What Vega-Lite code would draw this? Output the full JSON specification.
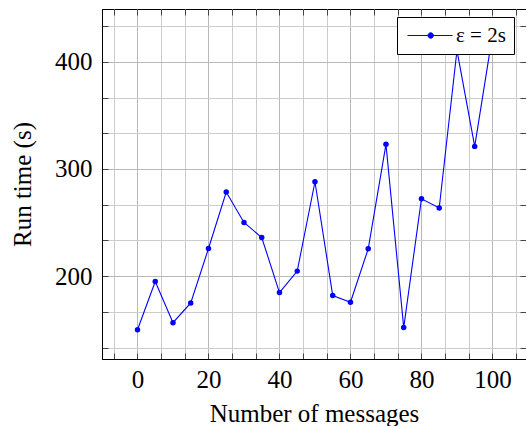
{
  "$schema": "https://vega.github.io/schema/vega-lite/v6.json",
  "width": 424,
  "height": 350,
  "autosize": {"type": "none"},
  "padding": {"left": 102, "top": 9, "right": 0, "bottom": 67},
  "background": "white",
  "config": {
    "view": {"stroke": "black", "strokeWidth": 1},
    "font": "Liberation Serif"
  },
  "data": {
    "values": [
      {"messages": 0, "time": 150, "series": "ε = 2s"},
      {"messages": 5, "time": 195, "series": "ε = 2s"},
      {"messages": 10, "time": 156.6, "series": "ε = 2s"},
      {"messages": 15, "time": 175, "series": "ε = 2s"},
      {"messages": 20, "time": 225.8, "series": "ε = 2s"},
      {"messages": 25, "time": 278.5, "series": "ε = 2s"},
      {"messages": 30, "time": 250.1, "series": "ε = 2s"},
      {"messages": 35, "time": 236.1, "series": "ε = 2s"},
      {"messages": 40, "time": 184.7, "series": "ε = 2s"},
      {"messages": 45, "time": 204.7, "series": "ε = 2s"},
      {"messages": 50, "time": 288.1, "series": "ε = 2s"},
      {"messages": 55, "time": 181.9, "series": "ε = 2s"},
      {"messages": 60, "time": 175.7, "series": "ε = 2s"},
      {"messages": 65, "time": 225.5, "series": "ε = 2s"},
      {"messages": 70, "time": 323, "series": "ε = 2s"},
      {"messages": 75, "time": 152, "series": "ε = 2s"},
      {"messages": 80, "time": 272.2, "series": "ε = 2s"},
      {"messages": 85, "time": 263.6, "series": "ε = 2s"},
      {"messages": 90, "time": 410.6, "series": "ε = 2s"},
      {"messages": 95, "time": 321.1, "series": "ε = 2s"},
      {"messages": 100, "time": 425, "series": "ε = 2s"}
    ]
  },
  "layer": [
    {
      "mark": {"type": "line", "color": "#0000ff", "strokeWidth": 1.1, "point": {"filled": true, "size": 30, "color": "#0000ff"}},
      "encoding": {
        "x": {
          "field": "messages", "type": "quantitative",
          "scale": {"domain": [-10, 109.45], "nice": false, "zero": false},
          "axis": {
            "orient": "bottom",
            "values": [-6.6667, 0, 6.6667, 13.3333, 20, 26.6667, 33.3333, 40, 46.6667, 53.3333, 60, 66.6667, 73.3333, 80, 86.6667, 93.3333, 100, 106.6667],
            "labelExpr": "abs(datum.value - round(datum.value/20)*20) < 0.01 ? format(datum.value, 'd') : ''",
            "grid": true,
            "gridColor": {"condition": {"test": "abs(datum.value - round(datum.value/20)*20) < 0.01", "value": "#b8b8b8"}, "value": "#cccccc"},
            "gridWidth": 1,
            "domain": true, "domainColor": "black", "domainWidth": 1,
            "ticks": true, "tickColor": "#444444", "tickSize": -6, "tickWidth": 1,
            "labelFont": "Liberation Serif", "labelFontSize": 25, "labelColor": "black", "labelPadding": 14,
            "title": "Number of messages",
            "titleFont": "Liberation Serif", "titleFontSize": 25, "titleFontWeight": "normal", "titleColor": "black", "titlePadding": 9
          }
        },
        "y": {
          "field": "time", "type": "quantitative",
          "scale": {"domain": [122.7, 449.3], "nice": false, "zero": false},
          "axis": {
            "orient": "left",
            "values": [133.3333, 166.6667, 200, 233.3333, 266.6667, 300, 333.3333, 366.6667, 400, 433.3333],
            "labelExpr": "abs(datum.value - round(datum.value/100)*100) < 0.01 ? format(datum.value, 'd') : ''",
            "grid": true,
            "gridColor": {"condition": {"test": "abs(datum.value - round(datum.value/100)*100) < 0.01", "value": "#b8b8b8"}, "value": "#cccccc"},
            "gridWidth": 1,
            "domain": true, "domainColor": "black", "domainWidth": 1,
            "ticks": true, "tickColor": "#444444", "tickSize": -6, "tickWidth": 1,
            "labelFont": "Liberation Serif", "labelFontSize": 25, "labelColor": "black", "labelPadding": 16,
            "title": "Run time (s)",
            "titleFont": "Liberation Serif", "titleFontSize": 25, "titleFontWeight": "normal", "titleColor": "black", "titlePadding": 19
          }
        },
        "color": {
          "field": "series", "type": "nominal",
          "scale": {"range": ["#0000ff"]},
          "legend": {
            "orient": "none", "legendX": 295, "legendY": 8,
            "title": null,
            "fillColor": "white", "strokeColor": "black",
            "padding": 8,
            "symbolType": "M-1,0L4.625,0M1.56,0A0.34,0.34,0,1,1,2.24,0A0.34,0.34,0,1,1,1.56,0Z",
            "symbolSize": 256,
            "symbolFillColor": "#0000ff", "symbolStrokeColor": "#0000ff", "symbolStrokeWidth": 1, "symbolOpacity": 1,
            "labelFont": "Liberation Serif", "labelFontSize": 21, "labelColor": "black", "labelOffset": 30
          }
        }
      }
    },
    {
      "mark": {"type": "line", "opacity": 0},
      "encoding": {
        "x": {
          "field": "messages", "type": "quantitative",
          "scale": {"domain": [-10, 109.45], "nice": false, "zero": false},
          "axis": {
            "orient": "top",
            "values": [-6.6667, 0, 6.6667, 13.3333, 20, 26.6667, 33.3333, 40, 46.6667, 53.3333, 60, 66.6667, 73.3333, 80, 86.6667, 93.3333, 100, 106.6667],
            "labels": false, "grid": false, "domain": false, "title": null,
            "ticks": true, "tickColor": "#444444", "tickSize": -6, "tickWidth": 1
          }
        },
        "y": {
          "field": "time", "type": "quantitative",
          "scale": {"domain": [122.7, 449.3], "nice": false, "zero": false},
          "axis": {
            "orient": "right",
            "values": [133.3333, 166.6667, 200, 233.3333, 266.6667, 300, 333.3333, 366.6667, 400, 433.3333],
            "labels": false, "grid": false, "domain": false, "title": null,
            "ticks": true, "tickColor": "#444444", "tickSize": -6, "tickWidth": 1
          }
        }
      }
    }
  ],
  "resolve": {"axis": {"x": "independent", "y": "independent"}}
}
